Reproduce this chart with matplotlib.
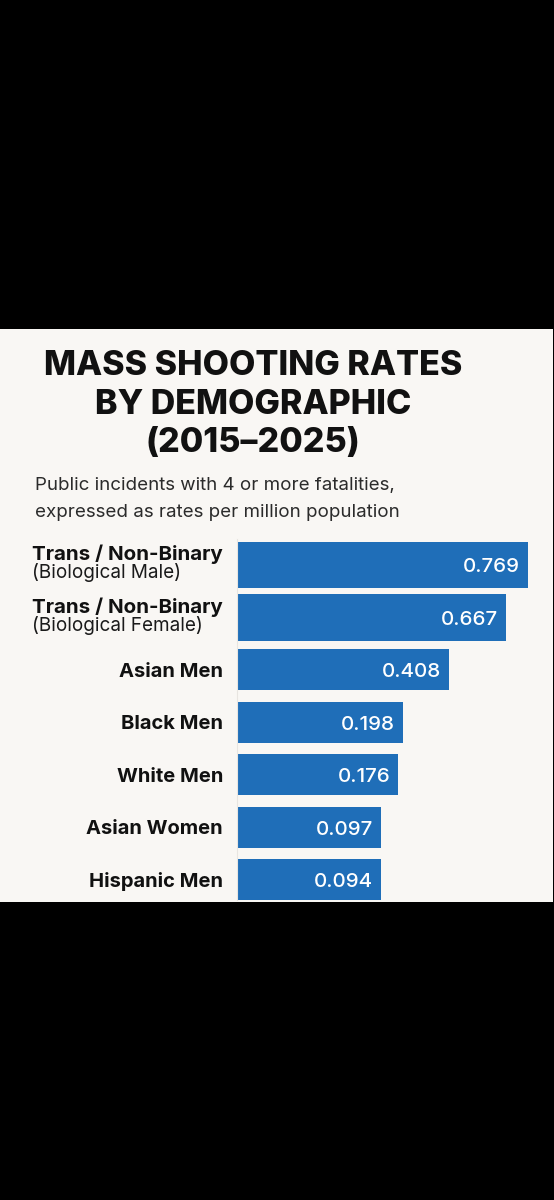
import matplotlib
matplotlib.use("Agg")
import matplotlib.pyplot as plt
from matplotlib.patches import Rectangle

# ---- data ----
categories = [
    "Trans / Non-Binary\n(Biological Male)",
    "Trans / Non-Binary\n(Biological Female)",
    "Asian Men",
    "Black Men",
    "White Men",
    "Asian Women",
    "Hispanic Men",
]
rates = [0.769, 0.667, 0.408, 0.198, 0.176, 0.097, 0.094]
title_lines = ["MASS SHOOTING RATES", "BY DEMOGRAPHIC", "(2015\u20132025)"]
subtitle_lines = ["Public incidents with 4 or more fatalities,",
                  "expressed as rates per million population"]

# ---- style ----
W, H = 554, 1200
FONT = ["Inter", "DejaVu Sans"]
plt.rcParams["font.family"] = FONT
PANEL = "#f9f7f4"
BAR = "#1f6eb8"

fig = plt.figure(figsize=(W / 100, H / 100), dpi=100, facecolor="black")

def fx(x):
    return x / W

def fy(y):
    return 1 - y / H

# off-white panel
fig.patches.append(Rectangle((0, fy(902)), fx(553), fy(329) - fy(902),
                             transform=fig.transFigure, facecolor=PANEL,
                             edgecolor="none", zorder=-5))

# title
for line, yb in zip(title_lines, [375, 414, 452]):
    fig.text(fx(253), fy(yb), line, ha="center", va="baseline",
             fontsize=24.5, fontweight="heavy", color="#111111")
# subtitle
for line, yb in zip(subtitle_lines, [490, 517]):
    fig.text(fx(35), fy(yb), line, ha="left", va="baseline",
             fontsize=13.5, color="#2b2b2b")

# axes: baseline offset so bars start at the axis edge
baseline = -0.564
px_per_unit = 218.2
ax_left, ax_right = 237, 541
xmax = baseline + (ax_right - ax_left) / px_per_unit
spacing = 52.42
top_c, n = 565, len(categories)
ax_top = top_c - spacing / 2
ax_bot = top_c + spacing * (n - 1) + spacing / 2
ax = fig.add_axes([fx(ax_left), fy(ax_bot), fx(ax_right - ax_left),
                   fy(ax_top) - fy(ax_bot)])
ax.set_zorder(2)
ax.set_facecolor("none")
ax.set_xlim(baseline, xmax)
ax.set_ylim(n - 0.5, -0.5)

ypos = list(range(n))
heights = [0.89 if "\n" in c else 0.78 for c in categories]
widths = [r - baseline for r in rates]
ax.barh(ypos, widths, left=baseline, height=heights, color=BAR,
        edgecolor="none", zorder=2)

for s in ["top", "right", "bottom"]:
    ax.spines[s].set_visible(False)
ax.spines["left"].set_color("#e8e5e1")
ax.spines["left"].set_linewidth(0.8)
ax.spines["left"].set_bounds(-0.5, 6.4)
ax.set_xticks([])
ax.set_yticks([])

# value labels
for i, r in enumerate(rates):
    ax.annotate(f"{r:.3f}", xy=(r, i), xytext=(-8, -7.5),
                textcoords="offset pixels", ha="right", va="baseline",
                fontsize=14.8, color="white", fontweight="medium", zorder=3)

# category labels
for i, c in enumerate(categories):
    parts = c.split("\n")
    if len(parts) == 1:
        ax.annotate(parts[0], xy=(0, i), xycoords=("axes fraction", "data"),
                    xytext=(-14, -7), textcoords="offset pixels",
                    ha="right", va="baseline", fontsize=14.5,
                    fontweight="bold", color="#111111")
    else:
        ax.annotate(parts[0], xy=(0, i), xycoords=("axes fraction", "data"),
                    xytext=(-14, 4.5), textcoords="offset pixels",
                    ha="right", va="baseline", fontsize=14.8,
                    fontweight="bold", color="#111111")
        ax.annotate(parts[1], xy=(0, i), xycoords=("axes fraction", "data"),
                    xytext=(-205, -13.5), textcoords="offset pixels",
                    ha="left", va="baseline", fontsize=13.6,
                    color="#1a1a1a")

fig.savefig("out.png", dpi=100, facecolor="black")
